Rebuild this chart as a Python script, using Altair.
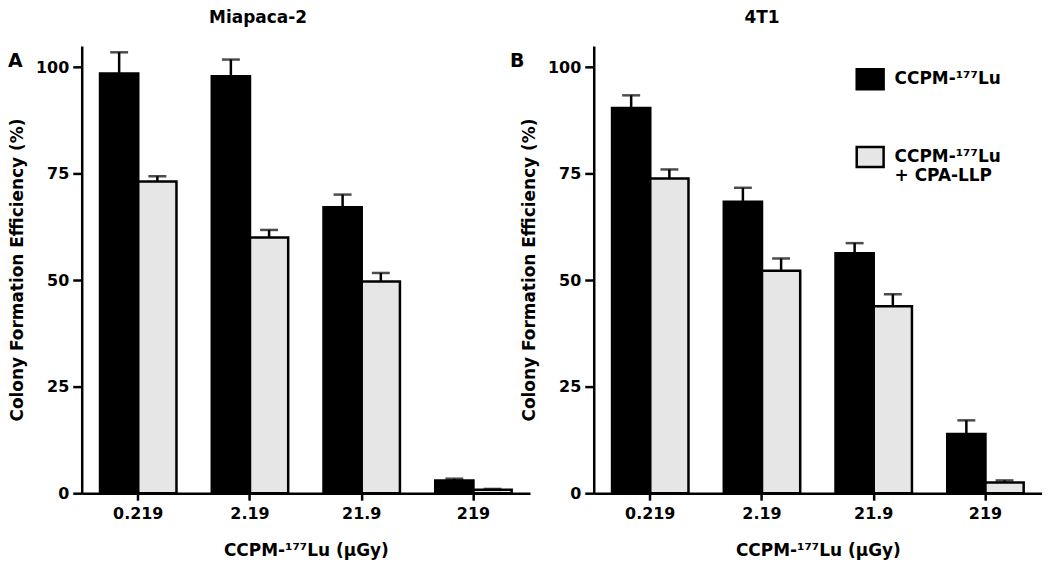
import altair as alt
import pandas as pd

# ---------------- data ----------------
doses = ["0.219", "2.19", "21.9", "219"]
groups = ["CCPM-¹⁷⁷Lu", "CCPM-¹⁷⁷Lu + CPA-LLP"]
panel_titles = ["Miapaca-2", "4T1"]
panel_letters = ["A", "B"]

mia_lu = [98.5, 97.9, 67.1, 3.0]
mia_lu_err = [5.0, 3.9, 3.0, 0.4]
mia_cpa = [73.2, 60.0, 49.7, 0.8]
mia_cpa_err = [1.2, 1.8, 2.0, 0.2]

t41_lu = [90.4, 68.4, 56.3, 13.9]
t41_lu_err = [3.0, 3.3, 2.4, 3.2]
t41_cpa = [73.9, 52.2, 43.9, 2.5]
t41_cpa_err = [2.1, 2.9, 2.8, 0.5]

x_title = "CCPM-¹⁷⁷Lu (µGy)"
y_title = "Colony Formation Efficiency (%)"
y_ticks = [0, 25, 50, 75, 100]

FONT = "DejaVu Sans"
W = 450
H = 449


def make_df(lu, lu_err, cpa, cpa_err):
    rows = []
    for i, d in enumerate(doses):
        rows.append({"dose": d, "group": groups[0], "value": lu[i], "upper": lu[i] + lu_err[i]})
        rows.append({"dose": d, "group": groups[1], "value": cpa[i], "upper": cpa[i] + cpa_err[i]})
    return pd.DataFrame(rows)


def panel(df, title, letter, title_dx, letter_x, show_legend):
    x = alt.X(
        "dose:N",
        sort=doses,
        scale=alt.Scale(paddingInner=0.316, paddingOuter=0.164),
        axis=alt.Axis(title=x_title, labelAngle=0, tickSize=7, labelPadding=5, titlePadding=22),
    )
    xo = alt.XOffset("group:N", sort=groups, scale=alt.Scale(paddingInner=0, paddingOuter=0))
    y = alt.Y(
        "value:Q",
        scale=alt.Scale(domain=[0, 105], nice=False),
        axis=alt.Axis(values=y_ticks, title=y_title, tickSize=9, labelPadding=4, titlePadding=9),
    )
    if show_legend:
        legend = alt.Legend(
            title=None,
            orient="none",
            legendX=266,
            legendY=22,
            symbolType="M-1.35,-1L1.35,-1L1.35,1L-1.35,1Z",
            symbolSize=400,
            symbolStrokeColor="black",
            symbolStrokeWidth=2.5,
            labelFont=FONT,
            labelFontSize=17,
            labelFontWeight="bold",
            labelColor="black",
            labelOffset=13,
            labelLimit=400,
            rowPadding=47,
            labelExpr="datum.label == '" + groups[1] + "' ? ['CCPM-¹⁷⁷Lu', '+ CPA-LLP'] : datum.label",
        )
    else:
        legend = None
    color = alt.Color(
        "group:N",
        sort=groups,
        scale=alt.Scale(domain=groups, range=["#000000", "#e6e6e6"]),
        legend=legend,
    )
    base = alt.Chart(df)
    bars = base.mark_bar(stroke="black", strokeWidth=2.5).encode(x=x, xOffset=xo, y=y, color=color)
    rules = base.mark_rule(color="black", strokeWidth=2.5).encode(
        x=x, xOffset=xo, y="value:Q", y2="upper:Q"
    )
    caps = base.mark_tick(color="black", thickness=2.5, size=18).encode(x=x, xOffset=xo, y="upper:Q")
    letter_layer = alt.Chart(pd.DataFrame({"t": [letter]})).mark_text(
        font=FONT, fontSize=19, fontWeight="bold", align="left", baseline="alphabetic", color="black"
    ).encode(text="t:N", x=alt.value(letter_x), y=alt.value(21))
    return alt.layer(bars, rules, caps, letter_layer).properties(
        width=W,
        height=H,
        title=alt.TitleParams(
            text=title,
            frame="group",
            anchor="middle",
            dx=title_dx,
            offset=19,
            font=FONT,
            fontSize=17,
            fontWeight="bold",
            color="black",
        ),
    )


left = panel(make_df(mia_lu, mia_lu_err, mia_cpa, mia_cpa_err), panel_titles[0], panel_letters[0], -48, -74, False)
right = panel(make_df(t41_lu, t41_lu_err, t41_cpa, t41_cpa_err), panel_titles[1], panel_letters[1], -56, -84, True)

chart = (
    alt.hconcat(left, right, spacing=64, bounds="flush")
    .resolve_scale(color="independent")
    .properties(padding=0)
    .configure_view(stroke=None)
    .configure_axis(
        domainColor="black",
        domainWidth=2.5,
        tickColor="black",
        tickWidth=2.5,
        grid=False,
        labelFont=FONT,
        labelFontSize=16,
        labelFontWeight="bold",
        labelColor="black",
        titleFont=FONT,
        titleFontSize=17,
        titleFontWeight="bold",
        titleColor="black",
    )
)

chart.save("out.html", embed_options={"renderer": "svg", "actions": False})
